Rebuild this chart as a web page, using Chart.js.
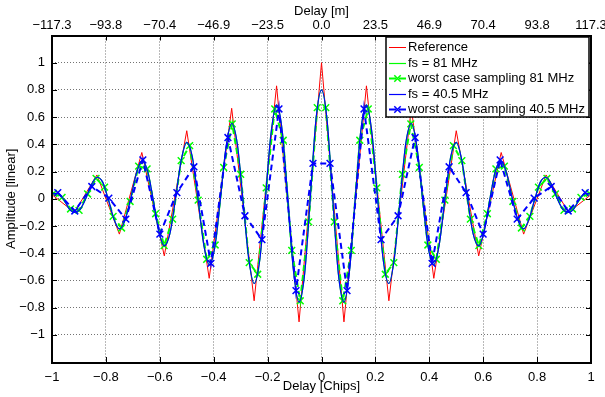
<!DOCTYPE html>
<html>
<head>
<meta charset="utf-8">
<script src="https://cdn.jsdelivr.net/npm/chart.js@4.4.1/dist/chart.umd.min.js"></script>
<style>
  html, body { margin: 0; padding: 0; background: #fff; }
  canvas { display: block; }
</style>
</head>
<body>
<canvas id="acf" width="605" height="397"></canvas>
<script>
// ---- tick positions and labels ----
const chipTickValues = [-1, -0.8, -0.6, -0.4, -0.2, 0, 0.2, 0.4, 0.6, 0.8, 1];
const chipTickLabels = ['\u22121', '\u22120.8', '\u22120.6', '\u22120.4', '\u22120.2', '0', '0.2', '0.4', '0.6', '0.8', '1'];
const meterTickLabels = ['\u2212117.3', '\u221293.8', '\u221270.4', '\u221246.9', '\u221223.5', '0.0', '23.5', '46.9', '70.4', '93.8', '117.3'];
const ampTickValues = [-1.2, -1, -0.8, -0.6, -0.4, -0.2, 0, 0.2, 0.4, 0.6, 0.8, 1, 1.2];
const ampTickLabels = ['', '\u22121', '\u22120.8', '\u22120.6', '\u22120.4', '\u22120.2', '0', '0.2', '0.4', '0.6', '0.8', '1', ''];

// ---- unfiltered reference correlation (corner points) ----
const refDelay = [-1, -0.9167, -0.8333, -0.75, -0.6667, -0.5833, -0.5, -0.4167, -0.3333, -0.25, -0.1667, -0.0833,
  0, 0.0833, 0.1667, 0.25, 0.3333, 0.4167, 0.5, 0.5833, 0.6667, 0.75, 0.8333, 0.9167, 1];
const refAmp = [0.03, -0.1, 0.175, -0.26, 0.34, -0.42, 0.5, -0.585, 0.665, -0.75, 0.83, -0.905,
  1.0, -0.905, 0.83, -0.75, 0.665, -0.585, 0.5, -0.42, 0.34, -0.26, 0.175, -0.1, 0.03];

// ---- band-limited correlation ----
const filtDelay = [
  -1, -0.9792, -0.9583, -0.9375, -0.9167, -0.8958, -0.875, -0.8542, -0.8333, -0.8125, -0.7917, -0.7708,
  -0.75, -0.7292, -0.7083, -0.6875, -0.6667, -0.6458, -0.625, -0.6042, -0.5833, -0.5625, -0.5417, -0.5208,
  -0.5, -0.4792, -0.4583, -0.4375, -0.4167, -0.3958, -0.375, -0.3542, -0.3333, -0.3125, -0.2917, -0.2708,
  -0.25, -0.2292, -0.2083, -0.1875, -0.1667, -0.1458, -0.125, -0.1042, -0.0833, -0.0625, -0.0417, -0.0208,
  0,
  0.0208, 0.0417, 0.0625, 0.0833, 0.1042, 0.125, 0.1458, 0.1667, 0.1875, 0.2083, 0.2292, 0.25,
  0.2708, 0.2917, 0.3125, 0.3333, 0.3542, 0.375, 0.3958, 0.4167, 0.4375, 0.4583, 0.4792, 0.5,
  0.5208, 0.5417, 0.5625, 0.5833, 0.6042, 0.625, 0.6458, 0.6667, 0.6875, 0.7083, 0.7292, 0.75,
  0.7708, 0.7917, 0.8125, 0.8333, 0.8542, 0.875, 0.8958, 0.9167, 0.9375, 0.9583, 0.9792, 1];
const filtAmp81 = [
  0.035, 0.04, 0, -0.07, -0.10, -0.078, 0, 0.10, 0.158, 0.124, 0, -0.145,
  -0.222, -0.159, 0, 0.183, 0.277, 0.208, 0, -0.232, -0.346, -0.257, 0, 0.281,
  0.415, 0.306, 0, -0.33, -0.484, -0.355, 0, 0.379, 0.553, 0.404, 0, -0.428,
  -0.623, -0.452, 0, 0.477, 0.69, 0.50, 0, -0.526, -0.76, -0.55, 0, 0.575,
  0.80,
  0.575, 0, -0.55, -0.76, -0.526, 0, 0.50, 0.69, 0.477, 0, -0.452, -0.623,
  -0.428, 0, 0.404, 0.553, 0.379, 0, -0.355, -0.484, -0.33, 0, 0.306, 0.415,
  0.281, 0, -0.257, -0.346, -0.232, 0, 0.208, 0.277, 0.183, 0, -0.159, -0.222,
  -0.145, 0, 0.124, 0.158, 0.10, 0, -0.078, -0.10, -0.07, 0, 0.04, 0.035];
// at this scale the 40.5 MHz curve lies on top of the 81 MHz one
const filtAmp40 = filtAmp81;

// ---- worst-case sample instants, 81 MHz ----
const samp81Delay = [
  -0.9943, -0.9627, -0.9312, -0.8996, -0.8680, -0.8365, -0.8049, -0.7733, -0.7418, -0.7102, -0.6786,
  -0.6471, -0.6155, -0.5840, -0.5524, -0.5208, -0.4893, -0.4577, -0.4261, -0.3946, -0.3630, -0.3314,
  -0.2999, -0.2683, -0.2367, -0.2052, -0.1736, -0.1420, -0.1105, -0.0789, -0.0474, -0.0158,
  0.0158, 0.0474, 0.0789, 0.1105, 0.1420, 0.1736, 0.2052, 0.2367, 0.2683, 0.2999, 0.3314,
  0.3630, 0.3946, 0.4261, 0.4577, 0.4893, 0.5208, 0.5524, 0.5840, 0.6155, 0.6471, 0.6786,
  0.7102, 0.7418, 0.7733, 0.8049, 0.8365, 0.8680, 0.8996, 0.9312, 0.9627, 0.9943];
const samp81Amp = [
  0.04, 0.01, -0.075, -0.085, 0.035, 0.15, 0.085, -0.13, -0.215, -0.02, 0.24,
  0.22, -0.11, -0.345, -0.15, 0.28, 0.39, -0.01, -0.445, -0.34, 0.23, 0.55,
  0.18, -0.47, -0.555, 0.08, 0.66, 0.43, -0.38, -0.75, -0.17, 0.67,
  0.67, -0.17, -0.75, -0.38, 0.43, 0.66, 0.08, -0.555, -0.47, 0.18, 0.55,
  0.23, -0.34, -0.445, -0.01, 0.39, 0.28, -0.15, -0.345, -0.11, 0.22, 0.24,
  -0.02, -0.215, -0.13, 0.085, 0.15, 0.035, -0.085, -0.075, 0.01, 0.04];

// ---- worst-case sample instants, 40.5 MHz ----
const samp40Delay = [
  -0.9785, -0.9154, -0.8523, -0.7891, -0.7260, -0.6629, -0.5997, -0.5366,
  -0.4735, -0.4104, -0.3472, -0.2841, -0.2210, -0.1578, -0.0947, -0.0316,
  0.0316, 0.0947, 0.1578, 0.2210, 0.2841, 0.3472, 0.4104, 0.4735,
  0.5366, 0.5997, 0.6629, 0.7260, 0.7891, 0.8523, 0.9154, 0.9785];
const samp40Amp = [
  0.045, -0.09, 0.09, 0.005, -0.15, 0.285, -0.26, 0.045,
  0.235, -0.475, 0.45, -0.125, -0.30, 0.66, -0.675, 0.26,
  0.26, -0.675, 0.66, -0.30, -0.125, 0.45, -0.475, 0.235,
  0.045, -0.26, 0.285, -0.15, 0.005, 0.09, -0.09, 0.045];

const FONT = '"Liberation Sans", Arial, Helvetica, sans-serif';
const toPoints = (xs, ys) => xs.map((x, i) => ({ x: x, y: ys[i] }));

// box, inward tick marks and the legend
const framePlugin = {
  id: 'frame',
  afterDatasetsDraw(chart) {
    const { ctx, chartArea: a, scales } = chart;
    ctx.save();
    ctx.strokeStyle = '#000';
    ctx.lineWidth = 1;
    const tl = 5;
    chipTickValues.forEach(v => {
      const px = Math.round(scales.x.getPixelForValue(v)) + 0.5;
      ctx.beginPath();
      ctx.moveTo(px, a.bottom); ctx.lineTo(px, a.bottom - tl);
      ctx.moveTo(px, a.top); ctx.lineTo(px, a.top + tl);
      ctx.stroke();
    });
    ampTickValues.forEach(v => {
      const py = Math.round(scales.y.getPixelForValue(v)) + 0.5;
      ctx.beginPath();
      ctx.moveTo(a.left, py); ctx.lineTo(a.left + tl, py);
      ctx.moveTo(a.right, py); ctx.lineTo(a.right - tl, py);
      ctx.stroke();
    });
    ctx.lineWidth = 2;
    ctx.strokeRect(Math.round(a.left), Math.round(a.top), Math.round(a.right - a.left), Math.round(a.bottom - a.top));
    ctx.restore();
  },
  afterDraw(chart) {
    const ctx = chart.ctx;
    const box = { x: 386, y: 37, w: 203, h: 80 };
    ctx.save();
    ctx.fillStyle = '#fff';
    ctx.fillRect(box.x, box.y, box.w, box.h);
    ctx.strokeStyle = '#000';
    ctx.lineWidth = 1.5;
    ctx.strokeRect(box.x, box.y, box.w, box.h);
    ctx.font = '13px ' + FONT;
    ctx.textBaseline = 'middle';
    ctx.textAlign = 'left';
    chart.data.datasets.forEach((ds, i) => {
      const cy = Math.round(box.y + 10 + i * 15.6) + 0.5;
      ctx.strokeStyle = ds.borderColor;
      ctx.lineWidth = ds.borderWidth;
      ctx.setLineDash(ds.borderDash && ds.borderDash.length ? [7, 3] : []);
      ctx.beginPath();
      ctx.moveTo(389, cy); ctx.lineTo(406, cy);
      ctx.stroke();
      ctx.setLineDash([]);
      if (ds.pointRadius > 0) {
        const r = 3.2, cx = 397.5;
        ctx.lineWidth = ds.pointBorderWidth;
        ctx.beginPath();
        ctx.moveTo(cx - r, cy - r); ctx.lineTo(cx + r, cy + r);
        ctx.moveTo(cx - r, cy + r); ctx.lineTo(cx + r, cy - r);
        ctx.stroke();
      }
      ctx.fillStyle = '#000';
      ctx.fillText(ds.label, 408, cy);
    });
    ctx.restore();
  }
};

const tickFont = { family: FONT, size: 13 };

new Chart(document.getElementById('acf'), {
  type: 'line',
  data: {
    datasets: [
      { label: 'Reference', data: toPoints(refDelay, refAmp), borderColor: '#ff0000', borderWidth: 1,
        pointRadius: 0, tension: 0, order: 5 },
      { label: 'fs = 81 MHz', data: toPoints(filtDelay, filtAmp81), borderColor: '#00ff00', borderWidth: 1.2,
        pointRadius: 0, cubicInterpolationMode: 'monotone', order: 4 },
      { label: 'worst case sampling 81 MHz', data: toPoints(samp81Delay, samp81Amp), borderColor: '#00ff00',
        borderWidth: 2, borderDash: [6, 4], pointStyle: 'crossRot', pointRadius: 4.8, pointBorderWidth: 1.5,
        pointBorderColor: '#00ff00', pointBackgroundColor: '#00ff00', tension: 0, order: 3 },
      { label: 'fs = 40.5 MHz', data: toPoints(filtDelay, filtAmp40), borderColor: '#0000ff', borderWidth: 1.2,
        pointRadius: 0, cubicInterpolationMode: 'monotone', order: 2 },
      { label: 'worst case sampling 40.5 MHz', data: toPoints(samp40Delay, samp40Amp), borderColor: '#0000ff',
        borderWidth: 2, borderDash: [6, 4], pointStyle: 'crossRot', pointRadius: 4.8, pointBorderWidth: 1.5,
        pointBorderColor: '#0000ff', pointBackgroundColor: '#0000ff', tension: 0, order: 1 }
    ]
  },
  options: {
    responsive: false,
    animation: false,
    devicePixelRatio: 1,
    layout: { padding: { left: 0, right: 14, top: 0, bottom: 0 } },
    plugins: { legend: { display: false }, tooltip: { enabled: false } },
    scales: {
      x: {
        type: 'linear', position: 'bottom', min: -1, max: 1,
        afterBuildTicks: s => { s.ticks = chipTickValues.map(v => ({ value: v })); },
        afterFit: s => { s.height = 35; s.paddingLeft = 0; s.paddingRight = 0; },
        ticks: { autoSkip: false, maxRotation: 0, padding: 8, color: '#000', font: tickFont,
          callback: (v, i) => chipTickLabels[i] },
        grid: { color: 'rgba(0,0,0,0.55)', lineWidth: 1, drawTicks: false },
        border: { display: false, dash: [1, 2] },
        title: { display: true, text: 'Delay [Chips]', color: '#000', font: tickFont, padding: { top: 0, bottom: 3 } }
      },
      x2: {
        type: 'linear', position: 'top', min: -1, max: 1,
        afterBuildTicks: s => { s.ticks = chipTickValues.map(v => ({ value: v })); },
        afterFit: s => { s.height = 35.5; s.paddingLeft = 0; s.paddingRight = 0; },
        ticks: { autoSkip: false, maxRotation: 0, padding: 2, color: '#000', font: tickFont,
          callback: (v, i) => meterTickLabels[i] },
        grid: { display: false, drawTicks: false },
        border: { display: false },
        title: { display: true, text: 'Delay [m]', color: '#000', font: tickFont, padding: { top: 4, bottom: 0 } }
      },
      y: {
        type: 'linear', position: 'left', min: -1.2, max: 1.2,
        afterBuildTicks: s => { s.ticks = ampTickValues.map(v => ({ value: v })); },
        afterFit: s => { s.width = 52; s.paddingTop = 0; s.paddingBottom = 0; },
        ticks: { autoSkip: false, padding: 7, color: '#000', font: tickFont,
          callback: (v, i) => ampTickLabels[i] },
        grid: { color: 'rgba(0,0,0,0.55)', lineWidth: 1, drawTicks: false },
        border: { display: false, dash: [1, 2] },
        title: { display: true, text: 'Amplitude [linear]', color: '#000', font: tickFont, padding: { top: 4, bottom: 0 } }
      }
    }
  },
  plugins: [framePlugin]
});
</script>
</body>
</html>
